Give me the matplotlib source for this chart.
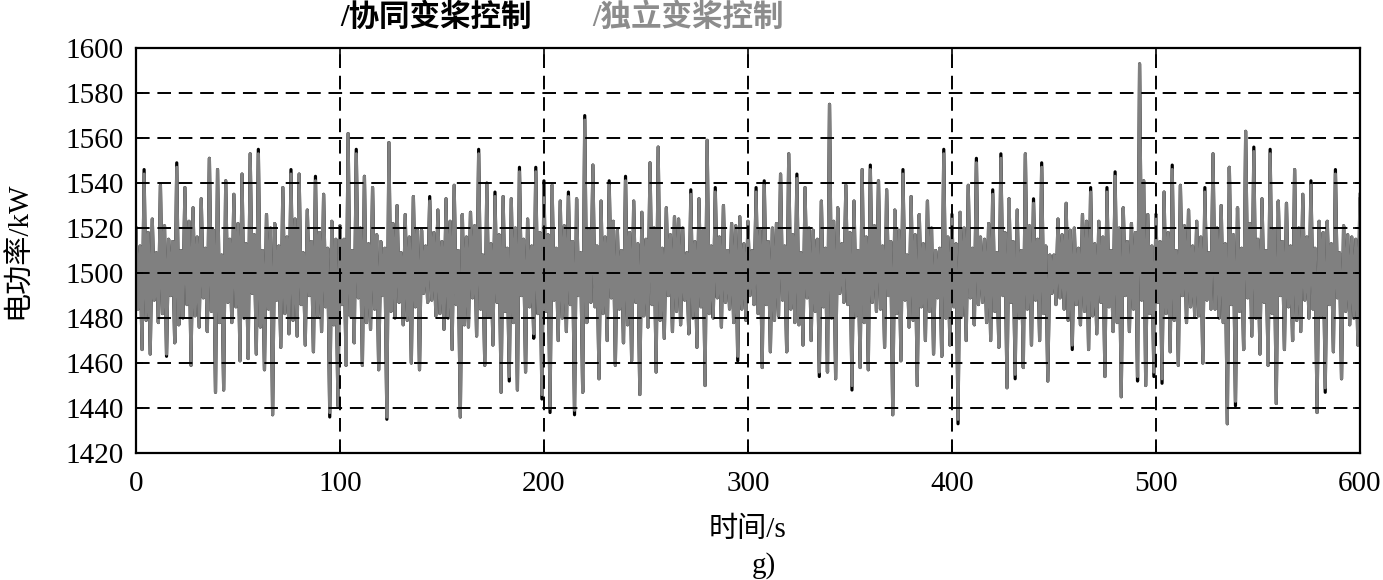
import matplotlib
matplotlib.use('Agg')
import matplotlib.pyplot as plt
import numpy as np

plt.rcParams['font.family'] = ['Liberation Serif', 'Noto Sans CJK SC']

# independent pitch control (grey), one value per second, 0..600 s
p_indep = np.array(
    [1520, 1484, 1512, 1466, 1544, 1479, 1518, 1464, 1524, 1488, 1509, 1478, 1539, 1482, 1521, 1464, 1515, 1490, 1514, 1469,
     1547, 1477, 1510, 1480, 1538, 1486, 1523, 1459, 1529, 1481, 1516, 1476, 1533, 1489, 1511, 1474, 1551, 1483, 1519, 1447,
     1546, 1478, 1508, 1448, 1541, 1487, 1515, 1478, 1535, 1485, 1522, 1461, 1544, 1480, 1513, 1462, 1553, 1491, 1517, 1464,
     1553, 1476, 1510, 1457, 1526, 1484, 1520, 1437, 1522, 1488, 1512, 1467, 1538, 1482, 1516, 1473, 1544, 1479, 1524, 1472,
     1544, 1486, 1509, 1468, 1528, 1490, 1514, 1465, 1541, 1481, 1518, 1474, 1535, 1485, 1511, 1438, 1523, 1477, 1515, 1441]
    + [1521, 1486, 1515, 1459, 1562, 1481, 1510, 1469, 1553, 1489, 1520, 1459, 1543, 1478, 1513, 1475, 1538, 1484, 1517, 1457,
       1514, 1490, 1511, 1436, 1558, 1483, 1522, 1480, 1530, 1487, 1509, 1477, 1526, 1479, 1516, 1460, 1534, 1485, 1519, 1457,
       1519, 1491, 1512, 1487, 1532, 1488, 1518, 1481, 1528, 1482, 1514, 1475, 1533, 1480, 1523, 1466, 1539, 1486, 1510, 1436,
       1526, 1477, 1516, 1476, 1527, 1489, 1521, 1472, 1553, 1484, 1508, 1459, 1540, 1481, 1513, 1468, 1534, 1487, 1517, 1447,
       1534, 1483, 1511, 1454, 1533, 1478, 1520, 1448, 1545, 1490, 1515, 1456, 1524, 1485, 1512, 1473, 1545, 1482, 1518, 1446]
    + [1539, 1483, 1517, 1440, 1539, 1488, 1511, 1470, 1532, 1480, 1521, 1474, 1534, 1486, 1514, 1439, 1533, 1490, 1509, 1447,
       1568, 1478, 1519, 1487, 1548, 1485, 1512, 1453, 1532, 1482, 1516, 1470, 1539, 1489, 1523, 1459, 1519, 1484, 1510, 1469,
       1541, 1477, 1518, 1461, 1532, 1487, 1513, 1446, 1527, 1481, 1515, 1476, 1549, 1486, 1520, 1456, 1556, 1479, 1511, 1471,
       1529, 1490, 1517, 1474, 1525, 1483, 1524, 1477, 1520, 1488, 1509, 1473, 1535, 1480, 1514, 1467, 1533, 1485, 1519, 1450,
       1559, 1482, 1512, 1480, 1536, 1489, 1516, 1476, 1530, 1487, 1510, 1484, 1522, 1478, 1521, 1463, 1525, 1484, 1513, 1479]
    + [1523, 1490, 1510, 1486, 1536, 1482, 1519, 1458, 1539, 1486, 1514, 1465, 1520, 1479, 1522, 1481, 1544, 1488, 1512, 1465,
       1553, 1484, 1517, 1478, 1542, 1477, 1509, 1468, 1538, 1489, 1520, 1470, 1519, 1483, 1515, 1456, 1532, 1485, 1511, 1456,
       1575, 1480, 1523, 1453, 1529, 1491, 1513, 1487, 1539, 1486, 1518, 1450, 1532, 1481, 1510, 1458, 1546, 1478, 1516, 1457,
       1546, 1487, 1521, 1483, 1541, 1484, 1512, 1467, 1537, 1490, 1514, 1437, 1528, 1482, 1519, 1461, 1544, 1488, 1508, 1476,
       1534, 1479, 1517, 1450, 1526, 1485, 1513, 1470, 1532, 1483, 1520, 1464, 1510, 1489, 1511, 1463, 1553, 1480, 1516, 1468]
    + [1526, 1485, 1513, 1435, 1527, 1481, 1520, 1470, 1539, 1489, 1511, 1477, 1549, 1486, 1516, 1487, 1515, 1478, 1522, 1470,
       1535, 1483, 1509, 1467, 1551, 1490, 1518, 1449, 1533, 1487, 1514, 1455, 1528, 1480, 1510, 1458, 1553, 1484, 1521, 1468,
       1531, 1488, 1515, 1470, 1547, 1482, 1512, 1452, 1508, 1491, 1508, 1486, 1524, 1489, 1517, 1484, 1531, 1479, 1519, 1468,
       1520, 1486, 1511, 1477, 1526, 1483, 1523, 1466, 1536, 1481, 1513, 1473, 1523, 1487, 1516, 1454, 1536, 1485, 1510, 1474,
       1543, 1478, 1520, 1445, 1529, 1490, 1514, 1474, 1522, 1484, 1518, 1454, 1593, 1488, 1541, 1450, 1526, 1482, 1512, 1456]
    + [1526, 1487, 1514, 1453, 1536, 1482, 1518, 1465, 1546, 1479, 1510, 1459, 1539, 1490, 1521, 1478, 1528, 1485, 1512, 1481,
       1523, 1481, 1516, 1460, 1536, 1488, 1509, 1484, 1553, 1484, 1520, 1480, 1530, 1478, 1513, 1433, 1547, 1486, 1517, 1443,
       1529, 1483, 1511, 1466, 1563, 1489, 1522, 1472, 1554, 1480, 1515, 1464, 1533, 1487, 1510, 1459, 1553, 1482, 1519, 1442,
       1532, 1490, 1514, 1466, 1531, 1485, 1512, 1470, 1546, 1479, 1520, 1474, 1535, 1488, 1516, 1480, 1539, 1484, 1511, 1438,
       1523, 1481, 1518, 1449, 1523, 1486, 1513, 1465, 1544, 1489, 1509, 1453, 1521, 1483, 1517, 1477, 1516, 1480, 1515, 1468,
       1535])

# coordinated pitch control (black), nearly the same, mostly hidden under the grey
p_coord = np.array(
    [1520, 1484, 1512, 1466, 1546, 1479, 1518, 1464, 1524, 1488, 1509, 1478, 1539, 1482, 1521, 1463, 1515, 1490, 1514, 1469,
     1549, 1477, 1510, 1480, 1538, 1486, 1523, 1459, 1529, 1481, 1516, 1476, 1533, 1489, 1511, 1474, 1551, 1483, 1519, 1447,
     1546, 1478, 1508, 1448, 1541, 1487, 1515, 1478, 1535, 1485, 1522, 1461, 1544, 1480, 1513, 1462, 1553, 1491, 1517, 1464,
     1555, 1476, 1510, 1457, 1526, 1484, 1520, 1437, 1522, 1488, 1512, 1467, 1538, 1482, 1516, 1473, 1546, 1479, 1524, 1472,
     1544, 1486, 1509, 1468, 1528, 1490, 1514, 1465, 1543, 1481, 1518, 1474, 1535, 1485, 1511, 1436, 1523, 1477, 1515, 1441]
    + [1521, 1486, 1515, 1459, 1562, 1481, 1510, 1469, 1555, 1489, 1520, 1459, 1543, 1478, 1513, 1475, 1538, 1484, 1517, 1457,
       1514, 1490, 1511, 1435, 1558, 1483, 1522, 1480, 1530, 1487, 1509, 1477, 1526, 1479, 1516, 1460, 1534, 1485, 1519, 1457,
       1519, 1491, 1512, 1487, 1534, 1488, 1518, 1481, 1528, 1482, 1514, 1475, 1533, 1480, 1523, 1466, 1539, 1486, 1510, 1436,
       1526, 1477, 1516, 1476, 1527, 1489, 1521, 1472, 1555, 1484, 1508, 1459, 1540, 1481, 1513, 1468, 1536, 1487, 1517, 1447,
       1534, 1483, 1511, 1452, 1533, 1478, 1520, 1448, 1547, 1490, 1515, 1456, 1524, 1485, 1512, 1471, 1547, 1482, 1518, 1444]
    + [1541, 1483, 1517, 1438, 1539, 1488, 1511, 1470, 1532, 1480, 1521, 1474, 1536, 1486, 1514, 1437, 1533, 1490, 1509, 1447,
       1570, 1478, 1519, 1487, 1548, 1485, 1512, 1453, 1532, 1482, 1516, 1470, 1541, 1489, 1523, 1459, 1519, 1484, 1510, 1469,
       1543, 1477, 1518, 1461, 1532, 1487, 1513, 1446, 1527, 1481, 1515, 1476, 1549, 1486, 1520, 1456, 1556, 1479, 1511, 1471,
       1529, 1490, 1517, 1474, 1525, 1483, 1524, 1477, 1520, 1488, 1509, 1473, 1537, 1480, 1514, 1467, 1533, 1485, 1519, 1450,
       1559, 1482, 1512, 1480, 1538, 1489, 1516, 1476, 1530, 1487, 1510, 1484, 1522, 1478, 1521, 1461, 1525, 1484, 1513, 1479]
    + [1523, 1490, 1510, 1486, 1538, 1482, 1519, 1458, 1541, 1486, 1514, 1465, 1520, 1479, 1522, 1481, 1544, 1488, 1512, 1465,
       1553, 1484, 1517, 1478, 1544, 1477, 1509, 1468, 1538, 1489, 1520, 1470, 1519, 1483, 1515, 1454, 1532, 1485, 1511, 1456,
       1575, 1480, 1523, 1453, 1529, 1491, 1513, 1487, 1539, 1486, 1518, 1448, 1532, 1481, 1510, 1458, 1546, 1478, 1516, 1457,
       1548, 1487, 1521, 1483, 1541, 1484, 1512, 1467, 1537, 1490, 1514, 1437, 1528, 1482, 1519, 1461, 1546, 1488, 1508, 1476,
       1534, 1479, 1517, 1450, 1526, 1485, 1513, 1470, 1532, 1483, 1520, 1464, 1510, 1489, 1511, 1463, 1555, 1480, 1516, 1468]
    + [1526, 1485, 1513, 1433, 1527, 1481, 1520, 1470, 1539, 1489, 1511, 1477, 1551, 1486, 1516, 1487, 1515, 1478, 1522, 1470,
       1537, 1483, 1509, 1467, 1553, 1490, 1518, 1449, 1533, 1487, 1514, 1453, 1528, 1480, 1510, 1458, 1553, 1484, 1521, 1468,
       1533, 1488, 1515, 1470, 1549, 1482, 1512, 1452, 1508, 1491, 1508, 1486, 1524, 1489, 1517, 1484, 1531, 1479, 1519, 1466,
       1520, 1486, 1511, 1477, 1526, 1483, 1523, 1466, 1538, 1481, 1513, 1473, 1523, 1487, 1516, 1454, 1538, 1485, 1510, 1474,
       1545, 1478, 1520, 1445, 1529, 1490, 1514, 1474, 1522, 1484, 1518, 1452, 1593, 1488, 1541, 1450, 1526, 1482, 1512, 1454]
    + [1526, 1487, 1514, 1451, 1536, 1482, 1518, 1465, 1548, 1479, 1510, 1459, 1539, 1490, 1521, 1478, 1528, 1485, 1512, 1481,
       1523, 1481, 1516, 1460, 1538, 1488, 1509, 1484, 1553, 1484, 1520, 1480, 1530, 1478, 1513, 1433, 1547, 1486, 1517, 1441,
       1529, 1483, 1511, 1466, 1563, 1489, 1522, 1472, 1556, 1480, 1515, 1464, 1533, 1487, 1510, 1459, 1555, 1482, 1519, 1442,
       1532, 1490, 1514, 1466, 1531, 1485, 1512, 1470, 1546, 1479, 1520, 1474, 1535, 1488, 1516, 1480, 1541, 1484, 1511, 1438,
       1523, 1481, 1518, 1447, 1523, 1486, 1513, 1465, 1546, 1489, 1509, 1453, 1521, 1483, 1517, 1477, 1516, 1480, 1515, 1468,
       1533])

t_indep = np.arange(len(p_indep))
t_coord = np.arange(len(p_coord))

x_ticks = [0, 100, 200, 300, 400, 500, 600]
y_ticks = [1420, 1440, 1460, 1480, 1500, 1520, 1540, 1560, 1580, 1600]

fig = plt.figure(figsize=(13.83, 5.80), dpi=100)
ax = fig.add_axes([0.0983, 0.219, 0.885, 0.698])

ax.plot(t_coord, p_coord, color='black', lw=2.3)
ax.plot(t_indep, p_indep, color='#808080', lw=2.3)

ax.set_xlim(0, 600)
ax.set_ylim(1420, 1600)
ax.set_xticks(x_ticks)
ax.set_yticks(y_ticks)
ax.tick_params(direction='in', labelsize=21, length=5, width=1.2, pad=13, top=True, right=True)
ax.tick_params(axis='y', pad=9)
ax.set_axisbelow(False)
ax.grid(True, color='black', linestyle=(0, (7, 4)), linewidth=1.4)
for s in ax.spines.values():
    s.set_linewidth(1.6)

ax.set_xlabel('时间/s', fontsize=21, labelpad=14)
ax.set_ylabel('电功率/kW', fontsize=21, labelpad=24)
fig.text(0.552, 0.012, 'g)', fontsize=21, ha='center')

fig.text(0.246, 0.968, '/协同变桨控制', fontsize=22, fontweight='bold', color='black', va='center')
fig.text(0.428, 0.968, '/独立变桨控制', fontsize=22, fontweight='bold', color='#8c8c8c', va='center')

fig.savefig('out.png', dpi=100)
